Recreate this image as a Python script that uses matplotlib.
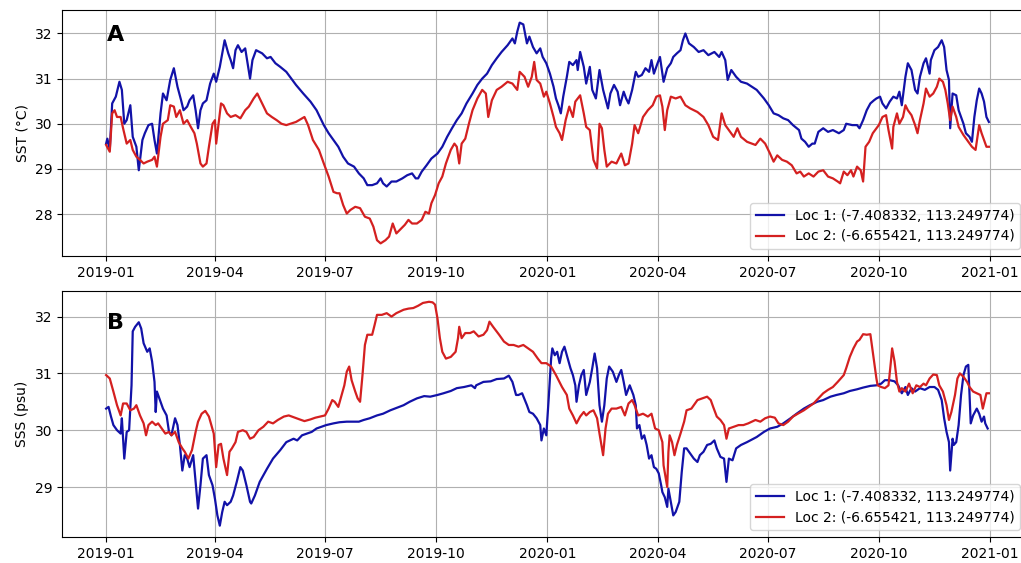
import numpy as np
import pandas as pd
import matplotlib
matplotlib.use("Agg")
import matplotlib.pyplot as plt
import matplotlib.dates as mdates

#Values, x = days since 2019-01-01
sst1_days = [0, 1, 3, 5, 8, 11, 13, 15, 17, 20, 22, 25, 27, 30, 32, 35, 38, 40, 42, 45, 47, 50, 53, 56, 59, 62, 64, 67, 69, 72,
             74, 76, 78, 80, 83, 86, 89, 91, 94, 96, 98, 101, 103, 105, 107, 109, 112, 115, 117, 119, 121, 124, 129, 133, 136, 140, 144, 149,
             157, 163, 169, 174, 180, 184, 188, 192, 196, 200, 205, 209, 213, 216, 220, 224, 227, 229, 232, 236, 240, 245, 249, 253, 256, 258,
             261, 265, 269, 274, 278, 282, 286, 290, 294, 298, 303, 307, 311, 315, 319, 323, 327, 332, 336, 338, 340,
             342, 345, 348, 350, 353, 356, 359, 361, 364, 367, 370, 372, 374, 376, 378, 381, 383, 386, 389, 390, 392, 395, 397, 400, 402,
             405, 408, 411, 415, 417, 420, 423, 425, 428, 430, 432, 435, 438, 440, 443, 446, 449, 451, 453, 456, 458, 461, 464, 467, 469,
             472, 475, 477, 479, 482, 486, 490, 494, 498, 503, 507, 509, 512, 514, 517, 521, 525, 530,
             538, 544, 548, 552, 556, 560, 564, 568, 573, 575, 578, 581, 584, 586, 589, 593, 597, 601, 606, 610, 612, 617, 621, 623, 626,
             629, 632, 635, 637, 640, 642, 645, 648, 651, 654, 656, 658, 661, 663, 666, 669, 671, 673, 676, 678, 681, 682, 685, 688, 691,
             693, 695, 697, 698, 700, 703, 705, 709, 711, 714, 716, 718, 720, 722, 724, 726, 728, 730]
sst1 = [29.56, 29.67, 29.42, 30.45, 30.6, 30.93, 30.75, 30.0, 30.08, 30.41, 29.71, 29.49, 28.97, 29.64, 29.79, 29.97, 30.0, 29.64, 29.34, 30.23,
        30.67, 30.52, 30.97, 31.23, 30.82, 30.52, 30.30, 30.38, 30.52, 30.63, 30.30, 29.90, 30.30, 30.45, 30.52, 30.89, 31.11, 30.93, 31.26, 31.56,
        31.85, 31.56, 31.41, 31.23, 31.63, 31.74, 31.59, 31.67, 31.34, 31.0, 31.41, 31.63, 31.56, 31.45, 31.48, 31.34, 31.26, 31.15,
        30.86, 30.67, 30.49, 30.30, 29.97, 29.79, 29.64, 29.49, 29.27, 29.12, 29.05, 28.90, 28.79, 28.64, 28.64, 28.68, 28.79, 28.68, 28.61, 28.72,
        28.72, 28.79, 28.86, 28.90, 28.79, 28.79, 28.94, 29.08, 29.23, 29.34, 29.49, 29.71, 29.90, 30.08, 30.23, 30.45, 30.67, 30.86, 31.0, 31.11,
        31.30, 31.45, 31.59, 31.74, 31.89, 31.78, 32.04,
        32.24, 32.20, 31.78, 31.93, 31.70, 31.56, 31.67, 31.48, 31.34, 31.11, 30.82, 30.56, 30.41, 30.23, 30.60, 31.04, 31.37, 31.30, 31.41, 31.19,
        31.59, 31.26, 30.89, 31.26, 30.75, 30.56, 31.19, 30.75, 30.34, 30.67, 30.86, 30.71, 30.41, 30.71, 30.56, 30.45, 30.75, 31.15, 31.04, 31.08,
        31.23, 31.15, 31.41, 31.11, 31.34, 31.48, 30.93, 31.23, 31.34, 31.48, 31.56, 31.63, 31.85, 32.0, 31.78, 31.70, 31.59, 31.63, 31.52, 31.59,
        31.48, 31.59, 31.41, 30.97, 31.19, 31.04, 30.93, 30.89,
        30.75, 30.56, 30.41, 30.23, 30.19, 30.12, 30.08, 29.97, 29.86, 29.67, 29.60, 29.49, 29.56, 29.56, 29.82, 29.90, 29.82, 29.86, 29.79, 29.86,
        30.0, 29.97, 29.97, 29.90, 30.08, 30.30, 30.45, 30.52, 30.56, 30.60, 30.45, 30.34, 30.49, 30.60, 30.56, 30.71, 30.41, 31.04, 31.34, 31.19,
        30.75, 30.67, 31.04, 31.34, 31.45, 31.11, 31.41, 31.63, 31.70, 31.85, 31.70, 31.19, 30.97, 29.90, 30.67, 30.63, 30.30, 30.0, 29.79, 29.71,
        29.60, 30.15, 30.52, 30.78, 30.67, 30.49, 30.15, 30.04]

sst2_days = [0, 3, 5, 7, 9, 12, 14, 17, 20, 22, 25, 28, 31, 34, 38, 40, 42, 45, 47, 51, 53, 56, 58, 61, 64, 67, 70, 73, 75, 78,
             80, 83, 85, 88, 90, 91, 93, 95, 97, 100, 103, 107, 111, 115, 118, 122, 125, 129, 133, 137, 141, 145, 149,
             157, 162, 164, 167, 171, 176, 180, 184, 188, 191, 193, 196, 199, 202, 206, 210, 214, 218, 221, 224, 227, 231, 234, 237, 240, 243,
             247, 250, 253, 257, 261, 264, 267, 269, 272, 275, 278, 281, 285, 288, 290, 292, 294, 297, 300, 303, 307, 311, 314, 316, 319, 323,
             327, 332, 336, 340,
             342, 346, 349, 352, 354, 356, 359, 362, 364, 367, 370, 372, 375, 377, 380, 383, 386, 388, 392, 395, 397, 400, 403, 406, 408,
             410, 412, 414, 418, 422, 426, 429, 432, 435, 437, 440, 444, 448, 452, 455, 458, 460, 462, 464, 467, 471, 475, 479, 483, 489,
             494, 498, 502, 506, 509, 512, 515, 519, 522, 525, 530,
             537, 541, 545, 549, 552, 555, 559, 563, 567, 571, 574, 577, 581, 585, 589, 593, 597, 601, 605, 607, 610, 613, 616, 618, 621,
             624, 626, 628, 631, 634, 637, 639, 642, 645, 647, 650, 651, 654, 656, 659, 661, 663, 666, 669, 671, 673, 676, 678, 681, 684,
             687, 689, 692, 694, 696, 698, 700, 703, 705, 709, 713, 716, 719, 722, 724, 727, 728, 730]
sst2 = [29.53, 29.38, 30.23, 30.30, 30.15, 30.15, 29.90, 29.56, 29.64, 29.42, 29.27, 29.2, 29.12, 29.16, 29.20, 29.27, 29.05, 29.71, 30.0, 30.08,
        30.41, 30.38, 30.15, 30.30, 30.0, 30.08, 29.93, 29.79, 29.56, 29.12, 29.05, 29.12, 29.49, 30.0, 30.08, 29.56, 30.0, 30.45, 30.41, 30.23,
        30.15, 30.19, 30.12, 30.30, 30.38, 30.56, 30.67, 30.45, 30.23, 30.15, 30.08, 30.0, 29.97,
        30.04, 30.12, 30.15, 29.97, 29.64, 29.42, 29.12, 28.83, 28.49, 28.46, 28.46, 28.20, 28.01, 28.09, 28.16, 28.13, 27.94, 27.90, 27.72, 27.42,
        27.35, 27.42, 27.50, 27.79, 27.57, 27.65, 27.76, 27.87, 27.79, 27.79, 27.87, 28.05, 28.01, 28.24, 28.42, 28.68, 28.83, 29.12, 29.42, 29.56,
        29.49, 29.12, 29.56, 29.67, 30.0, 30.30, 30.56, 30.75, 30.67, 30.15, 30.52, 30.75, 30.82, 30.93, 30.89, 30.75,
        31.15, 31.04, 30.82, 31.04, 31.37, 30.97, 30.89, 30.60, 30.71, 30.45, 30.15, 29.93, 29.79, 29.64, 30.08, 30.38, 30.15, 30.49, 30.63, 30.23,
        29.93, 29.86, 29.20, 29.01, 30.0, 29.90, 29.42, 29.05, 29.16, 29.12, 29.34, 29.08, 29.12, 29.56, 29.97, 29.79, 30.15, 30.30, 30.41, 30.60,
        30.63, 30.38, 29.86, 30.30, 30.60, 30.56, 30.60, 30.41, 30.34, 30.26, 30.15, 29.97, 29.71, 29.64, 30.23, 29.97, 29.86, 29.71, 29.90, 29.71,
        29.60,
        29.53, 29.67, 29.56, 29.34, 29.16, 29.30, 29.20, 29.16, 29.08, 28.90, 28.94, 28.83, 28.90, 28.83, 28.94, 28.97, 28.83, 28.79, 28.72, 28.68,
        28.94, 28.86, 28.97, 28.83, 29.05, 28.97, 28.72, 29.49, 29.60, 29.79, 29.90, 29.97, 30.15, 30.19, 29.86, 29.45, 29.93, 30.23, 30.0, 30.15,
        30.41, 30.30, 30.19, 29.97, 29.79, 30.08, 30.45, 30.78, 30.60, 30.67, 30.82, 31.0, 30.93, 30.75, 30.45, 30.08, 30.38, 30.15, 29.93, 29.75,
        29.60, 29.49, 29.42, 29.97, 29.79, 29.56, 29.49, 29.49]

sss1_days = [0, 2, 4, 6, 9, 12, 13, 14, 15, 17, 19, 21, 22, 24, 27, 29, 31, 34, 36, 38, 40, 41, 42, 45, 47, 50, 52, 54, 57, 59,
             61, 63, 65, 67, 69, 72, 74, 76, 78, 80, 83, 85, 88, 90, 92, 94, 96, 98, 100, 103, 105, 108, 111, 113, 116, 119, 120, 123, 127,
             133, 138, 144, 149,
             155, 158, 162, 166, 170, 174, 178, 182, 188, 193, 199, 205, 209, 213, 218, 224, 229, 235, 240, 246, 251, 257, 263, 268, 274, 279,
             285, 290, 296, 302, 305, 306, 312, 318, 323, 329, 333, 336, 339, 341,
             344, 348, 350, 353, 356, 359, 360, 362, 364, 366, 368, 369, 371, 373, 375, 377, 379, 381, 384, 386, 388, 389, 391, 393, 395,
             397, 400, 402, 404, 406, 408, 410, 412, 414, 416, 419, 422, 424, 426, 428, 430, 433, 436, 438, 439, 441, 443, 445, 447, 449,
             451, 453, 455, 457, 459, 460, 462, 464, 465, 467, 469, 471, 473, 474, 476, 478, 480, 483, 486, 489, 491, 494, 497, 500, 503,
             505, 508, 511, 513, 515, 518, 521, 525, 530,
             538, 544, 549, 555, 560, 566, 571, 577, 582, 588, 593, 599, 604, 610, 615, 621, 626, 632, 637, 641, 644, 648, 652, 655, 658,
             661, 663, 666, 669, 673, 677, 681, 685, 688, 691, 693, 695, 697, 698, 700, 701, 703, 705, 707, 709, 711, 713, 714, 715, 717,
             720, 722, 724, 726, 727, 729]
sss1 = [30.38, 30.41, 30.24, 30.09, 30.0, 29.94, 30.21, 29.85, 29.50, 29.97, 30.0, 30.79, 31.74, 31.82, 31.90, 31.79, 31.53, 31.38, 31.44, 31.21,
        30.85, 30.32, 30.68, 30.5, 30.38, 30.26, 29.97, 29.91, 30.21, 30.09, 29.74, 29.29, 29.56, 29.50, 29.35, 29.56, 29.09, 28.62, 29.03, 29.50,
        29.56, 29.21, 29.03, 28.79, 28.50, 28.32, 28.56, 28.74, 28.68, 28.74, 28.85, 29.09, 29.35, 29.29, 29.03, 28.74, 28.71, 28.85, 29.09,
        29.32, 29.50, 29.65, 29.79,
        29.85, 29.82, 29.91, 29.94, 29.97, 30.03, 30.06, 30.09, 30.12, 30.14, 30.15, 30.15, 30.15, 30.18, 30.21, 30.26, 30.29, 30.35, 30.39, 30.44,
        30.5, 30.56, 30.60, 30.59, 30.62, 30.65, 30.69, 30.74, 30.76, 30.79, 30.74, 30.79, 30.85, 30.86, 30.90, 30.91, 30.96, 30.85, 30.62, 30.62,
        30.65, 30.44, 30.32, 30.29, 30.21, 30.09, 29.82, 30.03, 29.91, 30.56, 31.26, 31.44, 31.32, 31.38, 31.18, 31.38, 31.47, 31.32, 31.09, 30.97,
        30.79, 30.5, 30.79, 30.97, 31.06, 30.62, 30.85, 31.09, 31.35, 31.09, 30.44, 30.15, 30.44, 30.91, 31.12, 31.03, 30.85, 30.97, 31.06, 30.85,
        30.62, 30.79, 30.62, 30.44, 30.03, 30.09, 29.85, 29.91, 29.74, 29.5, 29.56, 29.35, 29.32, 29.24, 29.03, 28.91, 28.82, 28.65, 28.97, 28.74,
        28.5, 28.56, 28.68, 28.74, 29.26, 29.68, 29.68, 29.59, 29.5, 29.44, 29.56, 29.62, 29.74, 29.76, 29.82, 29.68, 29.53, 29.5, 29.09, 29.5,
        29.47, 29.68, 29.74, 29.79,
        29.88, 29.97, 30.03, 30.06, 30.12, 30.21, 30.29, 30.38, 30.44, 30.5, 30.53, 30.59, 30.62, 30.65, 30.69, 30.72, 30.75, 30.78, 30.79, 30.82,
        30.88, 30.88, 30.86, 30.79, 30.65, 30.76, 30.62, 30.74, 30.68, 30.74, 30.71, 30.76, 30.76, 30.71, 30.53, 30.21, 29.97, 29.79, 29.29, 29.85,
        29.74, 29.79, 30.09, 30.62, 30.97, 31.12, 31.15, 30.62, 30.12, 30.26, 30.38, 30.29, 30.15, 30.24, 30.12, 30.03]

sss2_days = [0, 3, 6, 9, 12, 14, 17, 20, 23, 25, 28, 31, 33, 35, 38, 41, 43, 46, 49, 52, 54, 57, 60, 63, 65, 68, 71, 74, 76, 79,
             82, 85, 87, 89, 91, 93, 95, 97, 100, 102, 104, 107, 109, 113, 116, 119, 122, 126, 130, 134, 138, 142, 147,
             151, 156, 160, 164, 169, 173, 177, 181, 184, 187, 189, 192, 194, 197, 199, 201, 203, 206, 208, 210, 212, 214, 216, 220, 222,
             224, 228, 232, 236, 240, 246, 250, 254, 258, 262, 267, 270, 272, 274, 276, 278, 281, 285, 289, 291, 292, 294, 297, 301, 304,
             308, 312, 315, 317, 320, 325, 329, 333, 337, 341,
             345, 349, 353, 357, 360, 364, 368, 372, 377, 381, 383, 386, 389, 392, 395, 397, 400, 403, 406, 408, 411, 413, 415, 418, 422,
             426, 429, 432, 435, 437, 440, 444, 448, 451, 454, 457, 460, 461, 464, 465, 466, 468, 470, 472, 475, 478, 480, 484, 489, 493,
             497, 500, 502, 505, 508, 511, 513, 515, 519, 523, 527, 531,
             537, 541, 545, 549, 553, 556, 560, 564, 568, 572, 577, 581, 585, 589, 593, 597, 601, 605, 610, 612, 615, 618, 621, 623, 626,
             629, 632, 634, 637, 638, 641, 644, 647, 649, 650, 652, 654, 656, 658, 661, 664, 667, 670, 673, 676, 678, 681, 684, 687, 689,
             692, 695, 697, 699, 702, 704, 706, 709, 712, 714, 717, 720, 723, 725, 727, 728, 730]
sss2 = [30.97, 30.91, 30.68, 30.44, 30.26, 30.47, 30.47, 30.35, 30.38, 30.44, 30.26, 30.12, 29.91, 30.09, 30.15, 30.09, 30.12, 30.03, 29.94, 29.97,
        29.91, 29.97, 29.79, 29.68, 29.62, 29.50, 29.65, 29.97, 30.15, 30.29, 30.34, 30.24, 30.09, 29.94, 29.35, 29.74, 29.76, 29.50, 29.21, 29.62,
        29.68, 29.79, 29.97, 30.0, 29.97, 29.85, 29.88, 30.0, 30.06, 30.15, 30.12, 30.18, 30.24,
        30.26, 30.22, 30.19, 30.16, 30.19, 30.22, 30.24, 30.26, 30.38, 30.53, 30.5, 30.41, 30.56, 30.79, 31.03, 31.12, 30.88, 30.68, 30.56, 30.5,
        30.97, 31.5, 31.68, 31.68, 31.85, 32.03, 32.03, 32.06, 32.0, 32.06, 32.12, 32.14, 32.15, 32.19, 32.24, 32.26, 32.25, 32.21, 31.97, 31.62,
        31.38, 31.26, 31.29, 31.38, 31.62, 31.82, 31.62, 31.71, 31.71, 31.74, 31.65, 31.68, 31.76, 31.91, 31.82, 31.68, 31.56, 31.5, 31.5, 31.47,
        31.5, 31.44, 31.38, 31.26, 31.18, 31.18, 31.12, 30.97, 30.76, 30.62, 30.38, 30.26, 30.12, 30.24, 30.32, 30.26, 30.32, 30.35, 30.21, 29.94,
        29.56, 30.03, 30.29, 30.38, 30.38, 30.41, 30.26, 30.47, 30.53, 30.44, 30.26, 30.29, 30.24, 30.29, 30.03, 30.0, 29.79, 29.38, 29.0, 29.62,
        29.91, 29.79, 29.56, 29.74, 29.94, 30.15, 30.35, 30.38, 30.53, 30.56, 30.59, 30.53, 30.41, 30.24, 30.18, 30.09, 29.85, 30.03, 30.06, 30.09,
        30.09, 30.12,
        30.18, 30.15, 30.21, 30.24, 30.22, 30.12, 30.09, 30.15, 30.24, 30.29, 30.35, 30.41, 30.47, 30.56, 30.65, 30.71, 30.76, 30.85, 30.97, 31.09,
        31.29, 31.44, 31.56, 31.59, 31.69, 31.68, 31.69, 31.38, 30.91, 30.79, 30.76, 30.74, 30.79, 31.21, 31.44, 31.21, 30.85, 30.68, 30.74, 30.68,
        30.82, 30.65, 30.79, 30.76, 30.82, 30.79, 30.91, 30.98, 30.97, 30.79, 30.68, 30.44, 30.18, 30.32, 30.62, 30.91, 31.0, 30.94, 30.85, 30.76,
        30.68, 30.65, 30.62, 30.38, 30.56, 30.65, 30.65]

labels = ['Loc 1: (-7.408332, 113.249774)', 'Loc 2: (-6.655421, 113.249774)']
blue = '#1212a8'
red = '#d42020'

start = pd.Timestamp('2019-01-01')
def to_dates(days):
    return start + pd.to_timedelta(days, unit='D')

#Plotting
fig = plt.figure(figsize=(10.21, 5.63), dpi=100)
W, H = 1021.0, 563.0
ax1 = fig.add_axes([62/W, 1 - 256/H, 971/W, 246/H])
ax2 = fig.add_axes([62/W, 1 - 537/H, 971/W, 246/H])

panels = [
    (ax1, sst1_days, sst1, sst2_days, sst2, 'SST (°C)', 'A', 0.94, (27.07, 32.52)),
    (ax2, sss1_days, sss1, sss2_days, sss2, 'SSS (psu)', 'B', 0.91, (28.12, 32.45)),
]
for ax, d1, v1, d2, v2, ylab, tag, ty, ylim in panels:
    ax.plot(to_dates(d1), v1, color=blue, lw=1.6, label=labels[0])
    ax.plot(to_dates(d2), v2, color=red, lw=1.6, label=labels[1])
    ax.set_xlim(start - pd.Timedelta(days=36.5), start + pd.Timedelta(days=766.5))
    ax.set_ylim(*ylim)
    ax.xaxis.set_major_locator(mdates.MonthLocator(bymonth=[1, 4, 7, 10]))
    ax.xaxis.set_major_formatter(mdates.DateFormatter('%Y-%m'))
    ax.set_ylabel(ylab, fontsize=10)
    ax.tick_params(labelsize=10)
    ax.grid(True)
    ax.text(0.046, ty, tag, transform=ax.transAxes, fontsize=16, fontweight='bold', va='top')
    ax.legend(loc='lower right', bbox_to_anchor=(0.994, 0.0), fontsize=10)

fig.savefig('out.png', dpi=100)
